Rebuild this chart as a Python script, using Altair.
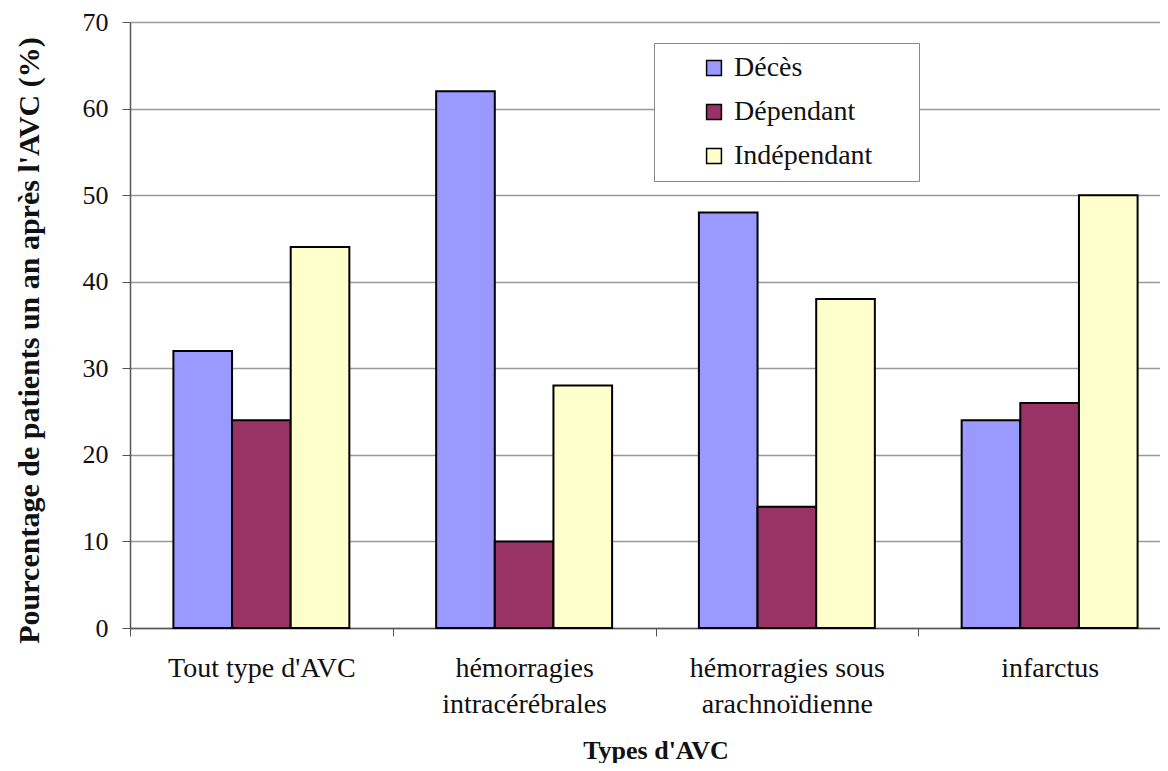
import altair as alt
import pandas as pd

categories = ["Tout type d'AVC", "hémorragies|intracérébrales", "hémorragies sous|arachnoïdienne", "infarctus"]
series = ["Décès", "Dépendant", "Indépendant"]
deces = [32, 62, 48, 24]
dependant = [24, 10, 14, 26]
independant = [44, 28, 38, 50]
colors = ["#9999FF", "#993366", "#FFFFCC"]
y_ticks = [0, 10, 20, 30, 40, 50, 60, 70]

rows = []
for i, c in enumerate(categories):
    for s, vals in zip(series, [deces, dependant, independant]):
        rows.append({"type": c, "serie": s, "value": vals[i]})
df = pd.DataFrame(rows)

FONT = "Liberation Serif"

chart = alt.Chart(df).mark_bar(stroke="black", strokeWidth=2).encode(
    x=alt.X(
        "type:N", sort=categories,
        scale=alt.Scale(paddingInner=0, paddingOuter=0, range=[0, 1051]),
        axis=alt.Axis(
            title="Types d'AVC", labelAngle=0, tickBand="extent",
            labelExpr="split(datum.label, '|')", labelLimit=0,
            labelFont=FONT, labelFontSize=28, labelColor="#111", labelLineHeight=36,
            labelPadding=18, tickSize=8, tickColor="#555", domainColor="#555", domainWidth=1.5,
            titleFont=FONT, titleFontSize=26, titleFontWeight="bold", titleColor="#111",
            titlePadding=19, grid=False,
        ),
    ),
    xOffset=alt.XOffset("serie:N", sort=series, scale=alt.Scale(paddingInner=0, paddingOuter=0.74)),
    y=alt.Y(
        "value:Q", scale=alt.Scale(domain=[0, 70], nice=False),
        axis=alt.Axis(
            values=y_ticks, title="Pourcentage de patients un an après l'AVC (%)",
            labelFont=FONT, labelFontSize=26, labelColor="#111", labelPadding=14,
            tickSize=8, tickColor="#555", domainColor="#555", domainWidth=1.5,
            gridColor="#999", gridWidth=1.5,
            titleFont=FONT, titleFontSize=30, titleFontWeight="bold", titleColor="#111",
            titlePadding=38, titleY=318,
        ),
    ),
    color=alt.Color(
        "serie:N", sort=series, scale=alt.Scale(domain=series, range=colors),
        legend=alt.Legend(
            title="\u00a0", titleOrient="right", titlePadding=36,
            orient="none", legendX=524, legendY=21,
            labelFont=FONT, labelFontSize=28, labelColor="#111",
            symbolType="square", symbolSize=220, symbolStrokeColor="black", symbolStrokeWidth=1.5,
            symbolOffset=35, labelOffset=6,
            strokeColor="#888", fillColor="white", padding=11, rowPadding=16,
        ),
    ),
).properties(
    width=1030, height=606, autosize="none",
    padding={"left": 122, "top": 14, "right": 0, "bottom": 135},
).configure_view(strokeWidth=0)

chart.save("out.html", embed_options={"renderer": "svg", "actions": False})
